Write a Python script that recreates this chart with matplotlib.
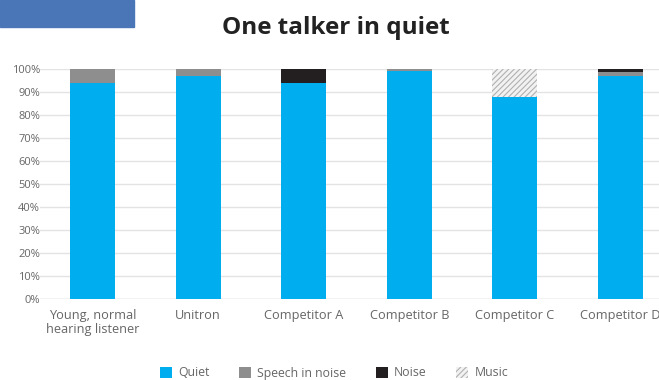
import matplotlib.pyplot as plt
import matplotlib as mpl
from matplotlib.patches import Rectangle

categories = ['Young, normal\nhearing listener', 'Unitron', 'Competitor A',
              'Competitor B', 'Competitor C', 'Competitor D']
quiet = [94, 97, 94, 99, 88, 97]
speech_in_noise = [6, 3, 0, 1, 0, 1.5]
noise = [0, 0, 6, 0, 0, 1.5]
music = [0, 0, 0, 0, 12, 0]
yticks = list(range(0, 101, 10))

mpl.rc('font', family=['Open Sans', 'DejaVu Sans'], size=8)
mpl.rc('hatch', color='#b0b0b0', linewidth=0.8)

fig = plt.figure(figsize=(6.59, 3.80), dpi=100)
fig.patch.set_facecolor('white')
ax = fig.add_axes([40 / 659, 1 - 299 / 380, 633 / 659, 230 / 380])

x = list(range(len(categories)))
w = 0.43
bottom = [0] * len(x)
series = [
    ('Quiet', quiet, dict(color='#00aeef')),
    ('Speech in noise', speech_in_noise, dict(color='#8e8e8e')),
    ('Noise', noise, dict(color='#231f20')),
    ('Music', music, dict(facecolor='#f2f2f2', hatch='//////', edgecolor='#b0b0b0', linewidth=0)),
]
for name, vals, style in series:
    ax.bar(x, vals, w, bottom=bottom, label=name, zorder=3, **style)
    bottom = [b + v for b, v in zip(bottom, vals)]

ax.set_xlim(-0.5, 5.5)
ax.set_ylim(0, 100)
ax.set_yticks(yticks)
ax.set_yticklabels([f'{t}%' for t in yticks], color='#666666', fontsize=8)
ax.set_xticks(x)
ax.set_xticklabels(categories, color='#666666', fontsize=9.2, linespacing=1.1)
ax.tick_params(length=0)
ax.tick_params(axis='y', pad=0)
ax.tick_params(axis='x', pad=7)
ax.yaxis.grid(True, color='#e3e3e3', linewidth=1, zorder=0)
for s in ax.spines.values():
    s.set_visible(False)
ax.axhline(0, color='#d9d9d9', linewidth=1, zorder=2)

fig.text(336 / 659, 1 - 28 / 380, 'One talker in quiet', ha='center', va='center',
         fontsize=17.5, fontweight='bold', color='#222222')

# blue banner cut at top left
fig.patches.append(Rectangle((0, 1 - 27 / 380), 134 / 659, 27 / 380,
                             transform=fig.transFigure, color='#4a76b8', zorder=0))

leg = fig.legend(loc='center', bbox_to_anchor=(334 / 659, 1 - 373 / 380), ncol=4,
                 frameon=False, fontsize=8.8, handlelength=1.0, handleheight=1.0,
                 columnspacing=2.4, handletextpad=0.5)
for t in leg.get_texts():
    t.set_color('#666666')

fig.savefig('out.png', dpi=100)
plt.close('all')
